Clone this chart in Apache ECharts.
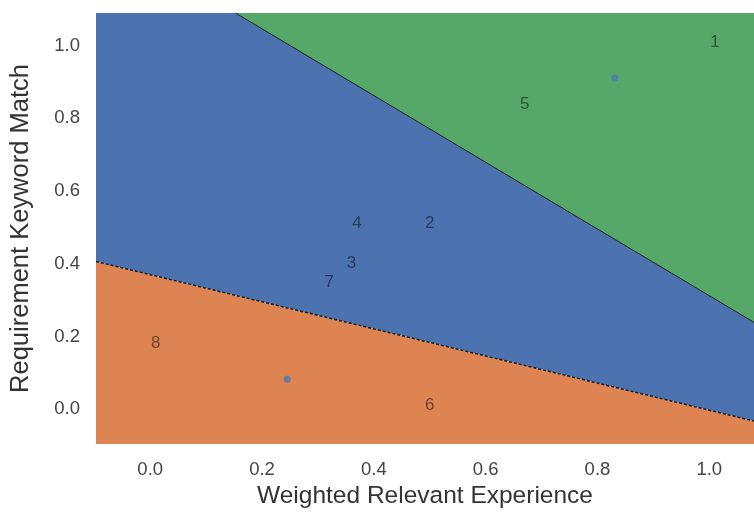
<!DOCTYPE html>
<html>
<head>
<meta charset="utf-8">
<script src="https://cdn.jsdelivr.net/npm/echarts@6/dist/echarts.min.js"></script>
<style>
  html, body { margin: 0; padding: 0; background: #ffffff; }
  #chart { width: 754px; height: 514px; }
</style>
</head>
<body>
<div id="chart"></div>
<script>
// Axis limits of the decision-region plot
const xLimits = [-0.097, 1.08];
const yLimits = [-0.096, 1.09];
const tickValues = [0.0, 0.2, 0.4, 0.6, 0.8, 1.0];

// Decision boundaries as y = intercept + slope * x
const lowerBoundary = { intercept: 0.370, slope: -0.373 };
const upperBoundary = { intercept: 1.230, slope: -0.918 };

// Class region colours (bottom, middle, top)
const regionColors = ['#DD8452', '#4C72B0', '#55A868'];

// Labelled samples
const sampleNames = ['1', '2', '3', '4', '5', '6', '7', '8'];
const sampleX = [1.01, 0.50, 0.36, 0.37, 0.67, 0.50, 0.32, 0.01];
const sampleY = [1.01, 0.51, 0.40, 0.51, 0.84, 0.01, 0.35, 0.18];

// Cluster centres
const centerX = [0.831, 0.245];
const centerY = [0.911, 0.082];

// Keep the part of a polygon lying above (or below) a line
function clipHalfPlane(poly, line, keepAbove) {
  const side = p => {
    const d = p[1] - (line.intercept + line.slope * p[0]);
    return keepAbove ? d : -d;
  };
  const out = [];
  for (let i = 0; i < poly.length; i++) {
    const a = poly[i], b = poly[(i + 1) % poly.length];
    const sa = side(a), sb = side(b);
    if (sa >= 0) out.push(a);
    if ((sa >= 0) !== (sb >= 0)) {
      const t = sa / (sa - sb);
      out.push([a[0] + t * (b[0] - a[0]), a[1] + t * (b[1] - a[1])]);
    }
  }
  return out;
}

const frame = [
  [xLimits[0], yLimits[0]], [xLimits[1], yLimits[0]],
  [xLimits[1], yLimits[1]], [xLimits[0], yLimits[1]]
];
const regionPolys = [
  clipHalfPlane(frame, lowerBoundary, false),
  clipHalfPlane(clipHalfPlane(frame, lowerBoundary, true), upperBoundary, false),
  clipHalfPlane(frame, upperBoundary, true)
];

// Segment of a boundary inside the frame
function boundarySegment(line) {
  const pts = [];
  const yAt = x => line.intercept + line.slope * x;
  const xAt = y => (y - line.intercept) / line.slope;
  [xLimits[0], xLimits[1]].forEach(x => {
    const y = yAt(x);
    if (y >= yLimits[0] && y <= yLimits[1]) pts.push([x, y]);
  });
  [yLimits[0], yLimits[1]].forEach(y => {
    const x = xAt(y);
    if (x > xLimits[0] && x < xLimits[1]) pts.push([x, y]);
  });
  pts.sort((p, q) => p[0] - q[0]);
  return pts;
}

const chart = echarts.init(document.getElementById('chart'), null, { renderer: 'canvas' });
const fontFamily = '"Liberation Sans", Arial, sans-serif';

chart.setOption({
  animation: false,
  backgroundColor: '#ffffff',
  grid: { left: 96, top: 13, width: 658, height: 432, containLabel: false },
  xAxis: {
    type: 'value', min: xLimits[0], max: xLimits[1],
    name: 'Weighted Relevant Experience', nameLocation: 'middle', nameGap: 40,
    nameTextStyle: { fontFamily, fontSize: 24.5, color: '#333333' },
    axisLine: { show: false }, axisTick: { show: false }, splitLine: { show: false },
    axisLabel: {
      customValues: tickValues, margin: 16, fontFamily, fontSize: 18.5, color: '#444444',
      formatter: v => v.toFixed(1)
    }
  },
  yAxis: {
    type: 'value', min: yLimits[0], max: yLimits[1],
    name: 'Requirement Keyword Match', nameLocation: 'middle', nameGap: 62,
    nameTextStyle: { fontFamily, fontSize: 25.5, color: '#333333' },
    axisLine: { show: false }, axisTick: { show: false }, splitLine: { show: false },
    axisLabel: {
      customValues: tickValues, margin: 16, fontFamily, fontSize: 18.5, color: '#444444',
      formatter: v => v.toFixed(1)
    }
  },
  series: [
    {
      type: 'custom',
      data: regionPolys.map((p, i) => i),
      renderItem: (params, api) => {
        const i = params.dataIndex;
        return {
          type: 'polygon',
          shape: { points: regionPolys[i].map(p => api.coord(p)) },
          style: { fill: regionColors[i], stroke: null }
        };
      },
      z: 1
    },
    {
      type: 'line',
      data: boundarySegment(upperBoundary),
      symbol: 'none',
      lineStyle: { color: '#1a1a1a', width: 1, type: 'solid' },
      z: 2
    },
    {
      type: 'line',
      data: boundarySegment(lowerBoundary),
      symbol: 'none',
      lineStyle: { color: '#1a1a1a', width: 1.5, type: [3, 2] },
      z: 2
    },
    {
      type: 'scatter',
      data: centerX.map((x, i) => [x, centerY[i]]),
      symbol: 'circle', symbolSize: 7,
      itemStyle: { color: '#4a78b8', opacity: 0.8 },
      z: 3
    },
    {
      type: 'scatter',
      data: sampleX.map((x, i) => ({ value: [x, sampleY[i]], name: sampleNames[i] })),
      symbolSize: 0,
      label: {
        show: true, position: 'inside', formatter: p => p.name,
        fontFamily, fontSize: 17, color: 'rgba(0,0,0,0.62)'
      },
      z: 4
    }
  ]
});
</script>
</body>
</html>
